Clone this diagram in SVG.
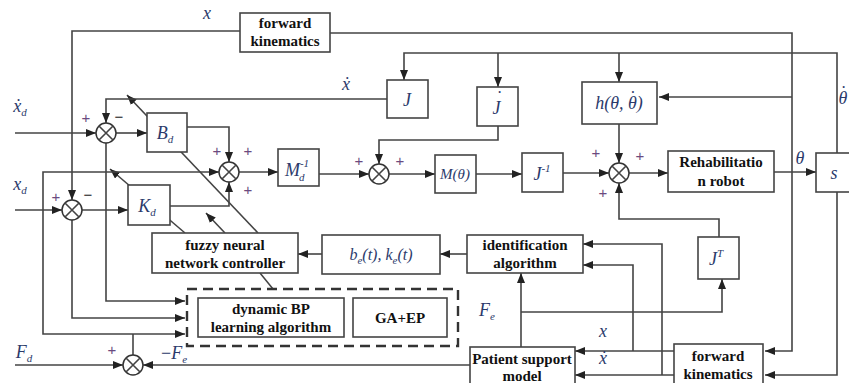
<svg xmlns="http://www.w3.org/2000/svg" width="849" height="383" viewBox="0 0 849 383">
  <defs>
    <marker id="arr" markerWidth="10" markerHeight="8" refX="10" refY="4" orient="auto" markerUnits="userSpaceOnUse">
      <path d="M0,0 L10,4 L0,8 z" fill="#222"/>
    </marker>
    <style>
      .ln { fill: none; stroke: #444; stroke-width: 1.6; }
      .ar { fill: none; stroke: #444; stroke-width: 1.6; marker-end: url(#arr); }
      .box { fill: #fff; stroke: #444; stroke-width: 1.6; }
      .sum { fill: #fff; stroke: #333; stroke-width: 1.5; }
      .lbl { font-family: "Liberation Serif", serif; font-weight: bold; font-size: 15px; fill: #111; text-anchor: middle; }
      .m { font-family: "Liberation Serif", serif; font-style: italic; font-size: 18px; fill: #2b3a6b; text-anchor: middle; }
      .ms { font-size: 11px; }
      .pl { font-family: "Liberation Sans", sans-serif; font-size: 15px; fill: #6b4a80; text-anchor: middle; }
      .mi { font-family: "Liberation Sans", sans-serif; font-size: 15px; fill: #222; text-anchor: middle; }
      .dash { fill: none; stroke: #333; stroke-width: 2.4; stroke-dasharray: 10 6; }
    </style>
  </defs>
  <rect width="849" height="383" fill="#fff"/>

  <!-- connectors -->
  <g id="connectors">
    <!-- parameter tuning arrows from the fuzzy controller -->
    <path class="ar" d="M258,233 L127,95"/>
    <path class="ar" d="M185,233 L110,169"/>
    <path class="ar" d="M225,233 L206,213"/>
    <path class="ln" d="M260,273 L273,289"/>

    <!-- position feedback from upper forward kinematics -->
    <path class="ar" d="M240,31 H72 V200"/>
    <path class="ar" d="M72,220 V318 H185"/>
    <path class="ln" d="M330,33 H792 V172"/>
    <path class="ar" d="M792,172 V351 H765"/>
    <path class="ar" d="M792,97 H659"/>

    <!-- theta to differentiator -->
    <path class="ar" d="M774,172 H816"/>
    <path class="ar" d="M837,153 V53 H404 V80"/>
    <path class="ar" d="M498,53 V87"/>
    <path class="ar" d="M619,53 V82"/>
    <path class="ar" d="M837,192 V375 H765"/>

    <!-- velocity loop -->
    <path class="ar" d="M387,99 H106 V123"/>
    <path class="ar" d="M15,133 H96"/>
    <path class="ar" d="M116,133 H147"/>
    <path class="ar" d="M106,143 V301 H185"/>
    <path class="ar" d="M187,127 H229 V162"/>

    <!-- force error path -->
    <path class="ln" d="M133,355 V334"/>
    <path class="ar" d="M133,334 H43 V172 H219"/>
    <path class="ar" d="M133,334 H185"/>

    <!-- position loop -->
    <path class="ar" d="M170,206 H229 V182"/>
    <path class="ar" d="M15,210 H62"/>
    <path class="ar" d="M82,210 H128"/>

    <!-- forward chain -->
    <path class="ar" d="M239,172 H278"/>
    <path class="ar" d="M319,174 H369"/>
    <path class="ar" d="M498,126 V140 H379 V164"/>
    <path class="ar" d="M389,174 H435"/>
    <path class="ar" d="M476,174 H522"/>
    <path class="ar" d="M563,173 H609"/>
    <path class="ar" d="M619,124 V163"/>
    <path class="ar" d="M629,173 H668"/>
    <path class="ar" d="M719,237 V219 H619 V183"/>

    <!-- identification -->
    <path class="ar" d="M521,347 V273"/>
    <path class="ar" d="M521,312 H722 V279"/>
    <path class="ar" d="M674,351 H575"/>
    <path class="ar" d="M633,351 V265 H583"/>
    <path class="ar" d="M674,375 H575"/>
    <path class="ar" d="M662,375 V244 H583"/>
    <path class="ar" d="M467,254 H440"/>
    <path class="ar" d="M322,254 H298"/>

    <!-- force inputs -->
    <path class="ar" d="M470,365 H143"/>
    <path class="ar" d="M15,365 H123"/>
  </g>

  <!-- nodes -->
  <g id="fk-top">
    <rect class="box" x="240" y="13" width="90" height="39"/>
    <text class="lbl" x="285" y="28">forward</text>
    <text class="lbl" x="285" y="46">kinematics</text>
  </g>

  <g id="sum-vel">
    <circle class="sum" cx="106" cy="133" r="10"/>
    <path class="ln" d="M99,126 L113,140 M113,126 L99,140"/>
  </g>
  <g id="sum-pos">
    <circle class="sum" cx="72" cy="210" r="10"/>
    <path class="ln" d="M65,203 L79,217 M79,203 L65,217"/>
  </g>
  <g id="sum-mid">
    <circle class="sum" cx="229" cy="172" r="10"/>
    <path class="ln" d="M222,165 L236,179 M236,165 L222,179"/>
  </g>
  <g id="sum-acc">
    <circle class="sum" cx="379" cy="174" r="10"/>
    <path class="ln" d="M372,167 L386,181 M386,167 L372,181"/>
  </g>
  <g id="sum-torque">
    <circle class="sum" cx="619" cy="173" r="10"/>
    <path class="ln" d="M612,166 L626,180 M626,166 L612,180"/>
  </g>
  <g id="sum-force">
    <circle class="sum" cx="133" cy="365" r="10"/>
    <path class="ln" d="M126,358 L140,372 M140,358 L126,372"/>
  </g>

  <g id="bd">
    <rect class="box" x="147" y="113" width="40" height="39"/>
    <text class="m" x="165" y="139">B<tspan class="ms" dy="4">d</tspan></text>
  </g>
  <g id="kd">
    <rect class="box" x="128" y="185" width="42" height="40"/>
    <text class="m" x="147" y="212">K<tspan class="ms" dy="4">d</tspan></text>
  </g>
  <g id="md-inv">
    <rect class="box" x="278" y="149" width="41" height="37"/>
    <text class="m" x="297" y="176">M<tspan class="ms" dy="-9">-1</tspan><tspan class="ms" dx="-10" dy="14">d</tspan></text>
  </g>
  <g id="j">
    <rect class="box" x="387" y="80" width="41" height="38"/>
    <text class="m" x="407" y="106">J</text>
  </g>
  <g id="jdot">
    <rect class="box" x="477" y="87" width="41" height="39"/>
    <text class="m" x="497" y="114">J<tspan dx="-5" dy="-10">˙</tspan></text>
  </g>
  <g id="m-theta">
    <rect class="box" x="435" y="155" width="41" height="38"/>
    <text class="m" x="455" y="179" style="font-size:15px">M(θ)</text>
  </g>
  <g id="j-inv">
    <rect class="box" x="522" y="153" width="41" height="39"/>
    <text class="m" x="542" y="180">J<tspan class="ms" dy="-8">-1</tspan></text>
  </g>
  <g id="h">
    <rect class="box" x="582" y="82" width="75" height="42"/>
    <text class="m" x="619" y="109">h(θ, θ<tspan dx="-8" dy="-5">˙</tspan><tspan dx="2" dy="5">)</tspan></text>
  </g>
  <g id="robot">
    <rect class="box" x="668" y="151" width="106" height="41"/>
    <text class="lbl" x="721" y="167">Rehabilitatio</text>
    <text class="lbl" x="721" y="186">n robot</text>
  </g>
  <g id="s">
    <rect class="box" x="816" y="153" width="35" height="39"/>
    <text class="m" x="834" y="179">s</text>
  </g>
  <g id="jt">
    <rect class="box" x="698" y="237" width="41" height="42"/>
    <text class="m" x="716" y="265">J<tspan class="ms" dy="-8">T</tspan></text>
  </g>
  <g id="identification">
    <rect class="box" x="467" y="235" width="116" height="38"/>
    <text class="lbl" x="525" y="250">identification</text>
    <text class="lbl" x="525" y="268">algorithm</text>
  </g>
  <g id="be-ke">
    <rect class="box" x="322" y="235" width="118" height="39"/>
    <text class="m" x="381" y="260" style="font-size:16px">b<tspan class="ms" dy="4">e</tspan><tspan dy="-4">(t), k</tspan><tspan class="ms" dy="4">e</tspan><tspan dy="-4">(t)</tspan></text>
  </g>
  <g id="fuzzy">
    <rect class="box" x="152" y="233" width="146" height="40"/>
    <text class="lbl" x="225" y="250">fuzzy neural</text>
    <text class="lbl" x="225" y="268">network controller</text>
  </g>
  <g id="learning">
    <rect class="dash" x="187" y="289" width="271" height="57"/>
    <rect class="box" x="198" y="298" width="146" height="39"/>
    <text class="lbl" x="271" y="314">dynamic BP</text>
    <text class="lbl" x="271" y="332">learning algorithm</text>
    <rect class="box" x="353" y="298" width="94" height="39"/>
    <text class="lbl" x="400" y="323">GA+EP</text>
  </g>
  <g id="patient">
    <rect class="box" x="470" y="347" width="105" height="40"/>
    <text class="lbl" x="522" y="364">Patient support</text>
    <text class="lbl" x="522" y="381">model</text>
  </g>
  <g id="fk-bottom">
    <rect class="box" x="674" y="344" width="89" height="42"/>
    <text class="lbl" x="718" y="361">forward</text>
    <text class="lbl" x="718" y="379">kinematics</text>
  </g>

  <!-- signal labels -->
  <g id="labels">
    <text class="m" x="207" y="19">x</text>
    <text class="m" x="346" y="90">ẋ</text>
    <text class="m" x="20" y="112">ẋ<tspan class="ms" dy="4">d</tspan></text>
    <text class="m" x="20" y="190">x<tspan class="ms" dy="4">d</tspan></text>
    <text class="m" x="800" y="164">θ</text>
    <text class="m" x="843" y="104">θ<tspan dx="-8" dy="-5">˙</tspan></text>
    <text class="m" x="487" y="316">F<tspan class="ms" dy="4">e</tspan></text>
    <text class="m" x="603" y="337">x</text>
    <text class="m" x="603" y="364">ẋ</text>
    <text class="m" x="24" y="358">F<tspan class="ms" dy="4">d</tspan></text>
    <text class="m" x="174" y="359"><tspan style="font-style:normal">−</tspan>F<tspan class="ms" dy="4">e</tspan></text>

    <text class="pl" x="86" y="123">+</text>
    <text class="mi" x="119" y="122">−</text>
    <text class="pl" x="56" y="202">+</text>
    <text class="mi" x="88" y="200">−</text>
    <text class="pl" x="217" y="156">+</text>
    <text class="pl" x="248" y="156">+</text>
    <text class="pl" x="248" y="195">+</text>
    <text class="pl" x="359" y="166">+</text>
    <text class="pl" x="400" y="166">+</text>
    <text class="pl" x="596" y="158">+</text>
    <text class="pl" x="640" y="161">+</text>
    <text class="pl" x="603" y="198">+</text>
    <text class="pl" x="112" y="355">+</text>
  </g>
</svg>
